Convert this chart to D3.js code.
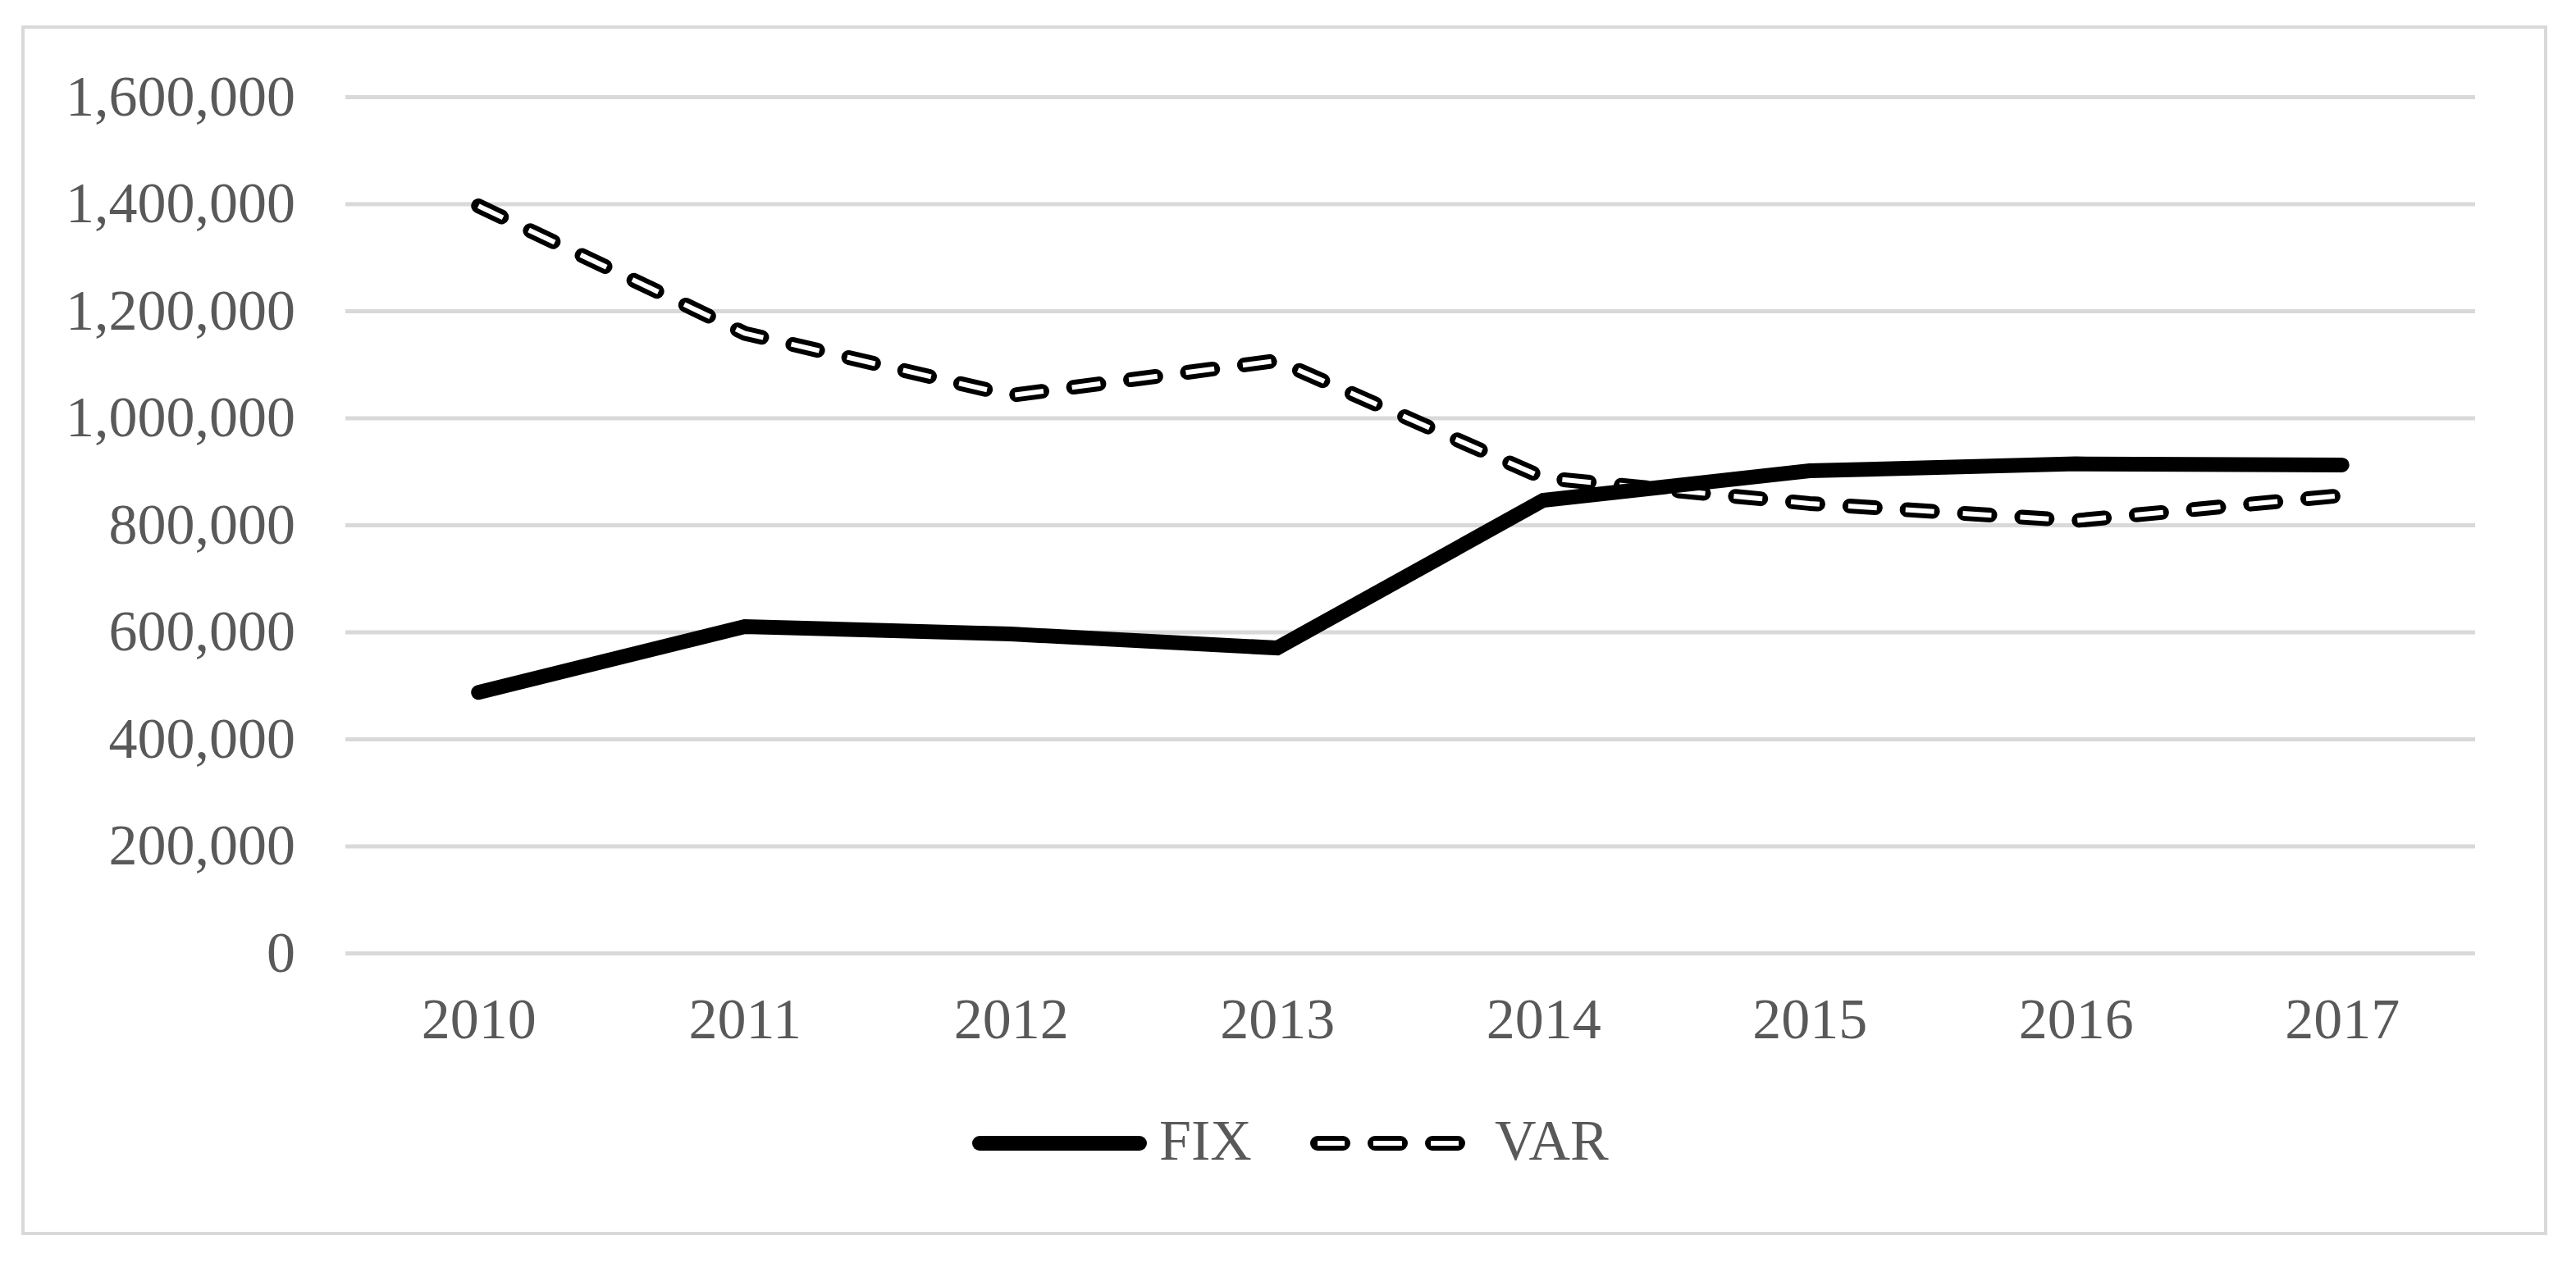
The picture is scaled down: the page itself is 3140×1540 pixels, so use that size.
<!DOCTYPE html>
<html>
<head>
<meta charset="utf-8">
<script src="https://cdn.jsdelivr.net/npm/d3@7"></script>
<style>
  html, body { margin: 0; padding: 0; background: #fff; }
  svg { display: block; }
</style>
</head>
<body>
<div id="chart"></div>
<script>
/* ------------------------------------------------------------
   FIX vs VAR line chart, 2010-2017
------------------------------------------------------------- */

const years = ["2010", "2011", "2012", "2013", "2014", "2015", "2016", "2017"];
const fixValues = [487000, 610000, 596000, 570000, 846000, 901000, 914000, 912000];
const varValues = [1396000, 1158000, 1042000, 1107000, 888000, 840000, 808000, 855000];
const yTicks = [0, 200000, 400000, 600000, 800000, 1000000, 1200000, 1400000, 1600000];
const seriesNames = ["FIX", "VAR"];

const W = 3140, H = 1540;
const plot = { left: 421, right: 3017, top: 118, bottom: 1162 };
const font = "'Liberation Serif', 'Times New Roman', serif";
const textColor = "#595959";
const gridColor = "#d9d9d9";

const svg = d3.select("#chart")
    .append("svg")
    .attr("width", W)
    .attr("height", H);

// outer frame
svg.append("rect")
    .attr("x", 28).attr("y", 33)
    .attr("width", 3103 - 28).attr("height", 1504 - 33)
    .attr("fill", "#fff")
    .attr("stroke", gridColor)
    .attr("stroke-width", 4);

// scales
const x = d3.scalePoint()
    .domain(years)
    .range([plot.left, plot.right])
    .padding(0.5);

const y = d3.scaleLinear()
    .domain([0, 1600000])
    .range([plot.bottom, plot.top]);

// y axis + gridlines
const yAxis = svg.append("g")
    .attr("transform", `translate(${plot.left},0)`)
    .call(d3.axisLeft(y)
        .tickValues(yTicks)
        .tickFormat(d3.format(","))
        .tickSize(-(plot.right - plot.left))
        .tickPadding(61));
yAxis.select(".domain").remove();
yAxis.selectAll(".tick line")
    .attr("stroke", gridColor)
    .attr("stroke-width", 5);
yAxis.selectAll(".tick text")
    .attr("fill", textColor)
    .style("font-family", font)
    .style("font-size", "70px");

// x axis labels
const xAxis = svg.append("g")
    .attr("transform", `translate(0,${plot.bottom})`)
    .call(d3.axisBottom(x).tickSize(0).tickPadding(54));
xAxis.select(".domain").remove();
xAxis.selectAll(".tick text")
    .attr("fill", textColor)
    .style("font-family", font)
    .style("font-size", "70px");

// lines
const line = d3.line()
    .x((d, i) => x(years[i]))
    .y(d => y(d));

// VAR: black outlined dashes with white core
svg.append("path")
    .attr("d", line(varValues))
    .attr("fill", "none")
    .attr("stroke", "#000")
    .attr("stroke-width", 18)
    .attr("stroke-linecap", "round")
    .attr("stroke-linejoin", "round")
    .attr("stroke-dasharray", "31 39");
svg.append("path")
    .attr("d", line(varValues))
    .attr("fill", "none")
    .attr("stroke", "#fff")
    .attr("stroke-width", 6)
    .attr("stroke-linecap", "butt")
    .attr("stroke-dasharray", "35 35")
    .attr("stroke-dashoffset", 2);

// FIX: solid thick line
svg.append("path")
    .attr("d", line(fixValues))
    .attr("fill", "none")
    .attr("stroke", "#000")
    .attr("stroke-width", 18)
    .attr("stroke-linecap", "round")
    .attr("stroke-linejoin", "miter");

// legend
const legendY = 1394;
const legend = svg.append("g");

legend.append("line")
    .attr("x1", 1194).attr("x2", 1389)
    .attr("y1", legendY).attr("y2", legendY)
    .attr("stroke", "#000")
    .attr("stroke-width", 18)
    .attr("stroke-linecap", "round");

legend.append("line")
    .attr("x1", 1606).attr("x2", 1778)
    .attr("y1", legendY).attr("y2", legendY)
    .attr("stroke", "#000")
    .attr("stroke-width", 18)
    .attr("stroke-linecap", "round")
    .attr("stroke-dasharray", "31 39");
legend.append("line")
    .attr("x1", 1606).attr("x2", 1778)
    .attr("y1", legendY).attr("y2", legendY)
    .attr("stroke", "#fff")
    .attr("stroke-width", 6)
    .attr("stroke-dasharray", "35 35")
    .attr("stroke-dashoffset", 2);

legend.selectAll("text")
    .data(seriesNames)
    .enter()
    .append("text")
    .attr("x", (d, i) => i === 0 ? 1413 : 1822)
    .attr("y", 1414)
    .attr("fill", textColor)
    .style("font-family", font)
    .style("font-size", "70px")
    .text(d => d);
</script>
</body>
</html>
